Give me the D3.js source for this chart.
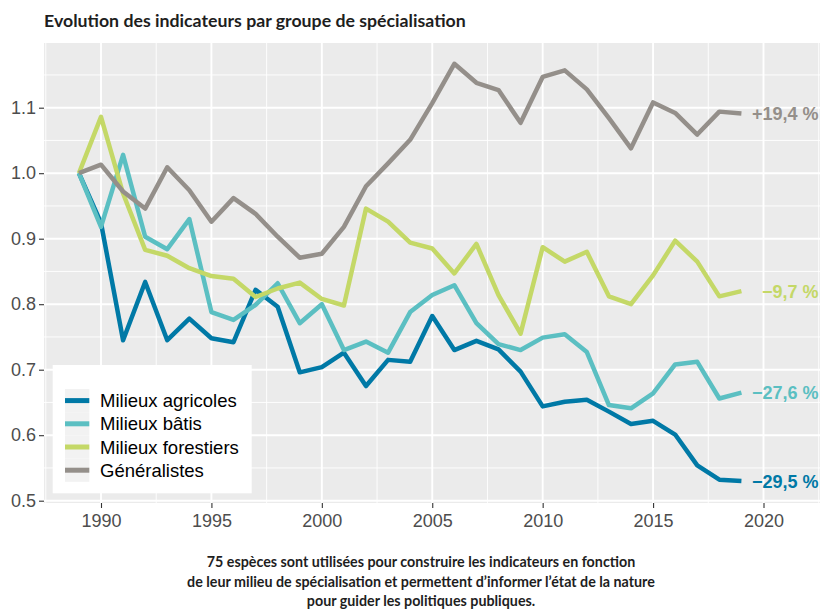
<!DOCTYPE html>
<html>
<head>
<meta charset="utf-8">
<script src="https://cdn.jsdelivr.net/npm/d3@7"></script>
<style>
  body { margin: 0; background: #ffffff; }
  svg { display: block; }
</style>
</head>
<body>
<svg id="chart" width="820" height="613"></svg>
<script>
// Years and indicator values (base 1 in 1989) for each specialisation group
const years = [1989, 1990, 1991, 1992, 1993, 1994, 1995, 1996, 1997, 1998, 1999,
               2000, 2001, 2002, 2003, 2004, 2005, 2006, 2007, 2008, 2009,
               2010, 2011, 2012, 2013, 2014, 2015, 2016, 2017, 2018, 2019];

const agricoles = [1.000, 0.924, 0.745, 0.834, 0.745, 0.778, 0.748, 0.742, 0.822, 0.796, 0.696,
                   0.704, 0.726, 0.675, 0.715, 0.712, 0.782, 0.730, 0.744, 0.731, 0.697,
                   0.644, 0.651, 0.654, 0.636, 0.617, 0.622, 0.601, 0.554, 0.532, 0.530];

const batis = [1.000, 0.918, 1.028, 0.903, 0.884, 0.930, 0.788, 0.776, 0.799, 0.832, 0.771,
               0.800, 0.730, 0.743, 0.726, 0.788, 0.814, 0.829, 0.771, 0.739, 0.730,
               0.749, 0.754, 0.727, 0.646, 0.641, 0.664, 0.708, 0.712, 0.656, 0.665];

const forestiers = [1.000, 1.086, 0.969, 0.883, 0.874, 0.855, 0.843, 0.839, 0.811, 0.824, 0.833,
                    0.808, 0.798, 0.946, 0.926, 0.894, 0.885, 0.847, 0.892, 0.814, 0.755,
                    0.887, 0.865, 0.880, 0.812, 0.800, 0.844, 0.897, 0.865, 0.812, 0.820];

const generalistes = [1.000, 1.013, 0.972, 0.946, 1.009, 0.974, 0.926, 0.962, 0.938, 0.903, 0.871,
                      0.877, 0.918, 0.980, 1.015, 1.051, 1.107, 1.167, 1.138, 1.127, 1.077,
                      1.147, 1.157, 1.128, 1.084, 1.038, 1.108, 1.092, 1.059, 1.094, 1.091];

const seriesNames = ["Milieux agricoles", "Milieux bâtis", "Milieux forestiers", "Généralistes"];
const endLabels = ["\u221229,5 %", "\u221227,6 %", "\u22129,7 %", "+19,4 %"];
const colors = ["#0079a6", "#5bbfc2", "#c4d867", "#948f8a"];

const xTicks = [1990, 1995, 2000, 2005, 2010, 2015, 2020];
const xMinor = [1987.5, 1992.5, 1997.5, 2002.5, 2007.5, 2012.5, 2017.5, 2022.5];
const yTicks = [0.5, 0.6, 0.7, 0.8, 0.9, 1.0, 1.1];
const yMinor = [0.55, 0.65, 0.75, 0.85, 0.95, 1.05, 1.15];

const title = "Evolution des indicateurs par groupe de spécialisation";
const caption = [
  "75 espèces sont utilisées pour construire les indicateurs en fonction",
  "de leur milieu de spécialisation et permettent d\u2019informer l\u2019état de la nature",
  "pour guider les politiques publiques."
];

const series = [agricoles, batis, forestiers, generalistes].map((vals, i) => ({
  name: seriesNames[i],
  label: endLabels[i],
  color: colors[i],
  values: years.map((yr, j) => ({ year: yr, value: vals[j] }))
}));

// Layout
const panel = { left: 44, right: 820, top: 43, bottom: 503 };
const x = d3.scaleLinear().domain([1990, 2020]).range([101, 763.5]);
const y = d3.scaleLinear().domain([0.5, 1.1]).range([500.7, 107.7]);

const svg = d3.select("#chart");
const axisFont = "'Liberation Sans', Arial, sans-serif";
const headFont = "Lato, 'Open Sans', sans-serif";

// Panel background
svg.append("rect")
  .attr("x", panel.left).attr("y", panel.top)
  .attr("width", panel.right - panel.left).attr("height", panel.bottom - panel.top)
  .attr("fill", "#ebebeb");

const grid = svg.append("g");
grid.selectAll(".ymin").data(yMinor).join("line")
  .attr("x1", panel.left).attr("x2", panel.right)
  .attr("y1", d => y(d)).attr("y2", d => y(d))
  .attr("stroke", "#ffffff").attr("stroke-width", 0.9);
grid.selectAll(".xmin").data(xMinor).join("line")
  .attr("y1", panel.top).attr("y2", panel.bottom)
  .attr("x1", d => x(d)).attr("x2", d => x(d))
  .attr("stroke", "#ffffff").attr("stroke-width", 0.9);
grid.selectAll(".ymaj").data(yTicks).join("line")
  .attr("x1", panel.left).attr("x2", panel.right)
  .attr("y1", d => y(d)).attr("y2", d => y(d))
  .attr("stroke", "#ffffff").attr("stroke-width", 1.9);
grid.selectAll(".xmaj").data(xTicks).join("line")
  .attr("y1", panel.top).attr("y2", panel.bottom)
  .attr("x1", d => x(d)).attr("x2", d => x(d))
  .attr("stroke", "#ffffff").attr("stroke-width", 1.9);

// Axes
const yAxis = svg.append("g")
  .attr("transform", `translate(${panel.left},0)`)
  .call(d3.axisLeft(y).tickValues(yTicks).tickFormat(d3.format(".1f")).tickSize(5).tickPadding(3));
const xAxis = svg.append("g")
  .attr("transform", `translate(0,${panel.bottom})`)
  .call(d3.axisBottom(x).tickValues(xTicks).tickFormat(d3.format("d")).tickSize(5).tickPadding(6.5));
[yAxis, xAxis].forEach(g => {
  g.select(".domain").remove();
  g.selectAll(".tick line").attr("stroke", "#333333").attr("stroke-width", 1.1);
  g.selectAll(".tick text")
    .attr("fill", "#4d4d4d")
    .style("font-family", axisFont)
    .style("font-size", "18px");
});

// Series lines
const line = d3.line().x(d => x(d.year)).y(d => y(d.value));
svg.append("g").selectAll("path").data(series).join("path")
  .attr("d", d => line(d.values))
  .attr("fill", "none")
  .attr("stroke", d => d.color)
  .attr("stroke-width", 4.5)
  .attr("stroke-linejoin", "round");

// Final change labels
svg.append("g").selectAll("text").data(series).join("text")
  .attr("x", 818.5)
  .attr("y", d => y(d.values[d.values.length - 1].value))
  .attr("dy", "0.36em")
  .attr("text-anchor", "end")
  .attr("fill", d => d.color)
  .style("font-family", axisFont)
  .style("font-weight", "bold")
  .style("font-size", "18px")
  .text(d => d.label);

// Legend
const legend = svg.append("g");
legend.append("rect")
  .attr("x", 52.7).attr("y", 365).attr("width", 199).attr("height", 128.3)
  .attr("fill", "#ffffff");
const keyH = 23.2, keyTop = 389, keyX = 65, keyW = 24.3;
const items = legend.selectAll("g").data(series).join("g")
  .attr("transform", (d, i) => `translate(0,${keyTop + i * keyH})`);
items.append("rect")
  .attr("x", keyX).attr("y", 0).attr("width", keyW).attr("height", keyH)
  .attr("fill", "#f2f2f2");
items.append("line")
  .attr("x1", keyX).attr("x2", keyX + keyW)
  .attr("y1", keyH / 2).attr("y2", keyH / 2)
  .attr("stroke", d => d.color).attr("stroke-width", 5);
items.append("text")
  .attr("x", 100).attr("y", keyH / 2).attr("dy", "0.36em")
  .attr("fill", "#000000")
  .style("font-family", axisFont)
  .style("font-size", "18.5px")
  .text(d => d.name);

// Title
const titleText = svg.append("text")
  .attr("x", 44).attr("y", 26.7)
  .attr("fill", "#1e1e1e")
  .style("font-family", headFont)
  .style("font-weight", "bold")
  .style("font-size", "16px")
  .text(title);
const tLen = titleText.node().getComputedTextLength();
titleText.style("font-size", (16 * 422 / tLen).toFixed(2) + "px");

// Caption
const capBase = [567, 586.5, 606];
const capText = svg.append("g").selectAll("text").data(caption).join("text")
  .attr("x", 421).attr("y", (d, i) => capBase[i])
  .attr("text-anchor", "middle")
  .attr("fill", "#1e1e1e")
  .style("font-family", headFont)
  .style("font-weight", "bold")
  .style("font-size", "15px")
  .text(d => d);
const cLen = capText.nodes()[1].getComputedTextLength();
capText.style("font-size", (15 * 468 / cLen).toFixed(2) + "px");
</script>
</body>
</html>
